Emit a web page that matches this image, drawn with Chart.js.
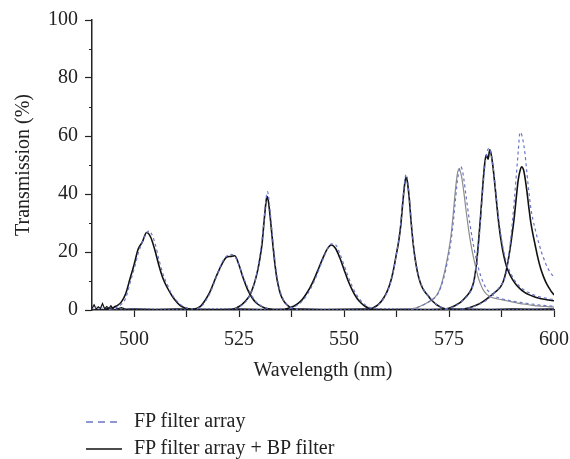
<!DOCTYPE html>
<html>
<head>
<meta charset="utf-8">
<script src="https://cdn.jsdelivr.net/npm/chart.js@4.4.1/dist/chart.umd.min.js"></script>
<style>
  html, body { margin: 0; padding: 0; background: #fff; }
  #wrap { position: relative; width: 570px; height: 459px; }
  #legend { position: absolute; left: 86px; top: 407px; font-family: 'Liberation Serif', 'Times New Roman', serif; font-size: 20px; color: #222; }
  #legend div { height: 27px; line-height: 27px; white-space: nowrap; }
  #legend svg { vertical-align: middle; margin-right: 12px; }
</style>
</head>
<body>
<div id="wrap">
  <canvas id="myChart" width="570" height="459"></canvas>
  <div id="legend">
    <div><svg width="36" height="4"><line x1="0" y1="2" x2="36" y2="2" stroke="#6a76c4" stroke-width="1.5" stroke-dasharray="7,5"/></svg>FP filter array</div>
    <div><svg width="36" height="4"><line x1="0" y1="2" x2="36" y2="2" stroke="#111" stroke-width="1.5"/></svg>FP filter array + BP filter</div>
  </div>
</div>
<script>
// tick positions
var xTicks = [500, 512.5, 525, 537.5, 550, 562.5, 575, 587.5, 600];
var yTicks = [0, 20, 40, 60, 80, 100];
var yMinor = [10, 30, 50, 70, 90];

// FP filter array (dashed), [wavelength nm, transmission %]
var fp503 = [[494,0.2],[495,0.5],[496,1],[497,2],[498,4],[499,9],[500,14],[501,19.5],[502,23.5],[503,26.5],[503.6,27.3],[504,26.8],[505,23],[506,17],[507,12],[508,8.5],[509,5.5],[510,3.5],[511,2],[512,1],[513,0.5],[514,0.3]];
var fp523 = [[515,0.4],[516,1.2],[517,3],[518,5.5],[519,9],[520,13],[521,16.5],[522,18.5],[523,19.2],[524,18.5],[525,15.5],[526,11.5],[527,8],[528,5],[529,3],[530,1.7],[531,0.9],[532,0.4]];
var fp532 = [[524,0.4],[525,1],[526,2],[527,3.6],[527.5,4.8],[528,6.3],[528.5,8.3],[529,11],[529.5,14.5],[530,19],[530.5,24.5],[531,32],[531.5,39],[531.8,40.8],[532,39.5],[532.5,33],[533,25],[533.5,18],[534,12],[534.5,8],[535,5.5],[535.5,3.8],[536,2.6],[537,1.2],[538,0.5],[539,0.2]];
var fp547 = [[537,0.5],[538,1],[539,1.8],[540,3],[541,4.8],[542,7.2],[543,10.2],[544,13.8],[545,17.5],[546,20.8],[547,22.8],[548,22.5],[549,19.5],[550,15.5],[551,11.5],[552,8],[553,5.2],[554,3.2],[555,1.8],[556,0.9],[557,0.4]];
var fp565 = [[557,0.5],[558,1.5],[559,3],[560,5.3],[561,9],[561.5,11.8],[562,15.3],[562.5,19.5],[563,24],[563.5,30],[564,38],[564.5,45],[564.8,46.8],[565,46],[565.5,40],[566,31],[566.5,23],[567,17.5],[567.5,13.5],[568,10.5],[569,7],[570,5],[571,3.3],[572,2],[573,1.1],[574,0.5],[575,0.2]];
var fp578 = [[566,0.3],[568,1.2],[570,2.6],[571,3.5],[572,4.8],[572.5,6],[573,7.6],[573.5,9.8],[574,12.5],[574.5,15.8],[575,19.5],[575.5,24],[576,30],[576.5,37.5],[577,44.5],[577.5,48.5],[577.8,49.5],[578.2,48],[578.5,45.5],[579,40],[579.5,34.5],[580,29.5],[580.5,25],[581,21],[581.5,17.5],[582,14.5],[582.5,12],[583,10],[583.5,8.4],[584,7.2],[585,5.6],[586,4.7],[587,4.1],[588,3.7],[590,3.1],[592,2.6],[594,2.2],[596,1.8],[598,1.5],[600,1.3]];
var fp584 = [[574,0.3],[576,1.1],[578,2.8],[579,4.2],[580,6],[580.5,7.5],[581,10],[581.5,14.5],[582,21.5],[582.5,30.5],[583,40.5],[583.5,49],[584,54],[584.5,55.8],[585,54],[585.5,49.5],[586,43],[586.5,36],[587,29.5],[587.5,24.5],[588,20.5],[588.5,17.3],[589,15],[590,11.8],[591,9.5],[592,7.9],[593,6.8],[594,6],[595,5.3],[596,4.8],[597,4.4],[598,4.1],[599,3.8],[600,3.6]];
var fp592 = [[578,0.3],[580,0.8],[582,1.8],[584,3.5],[585,4.8],[586,6.2],[587,7.8],[588,10],[588.5,12],[589,16],[589.5,22],[590,29],[590.5,37],[591,46],[591.5,55],[591.9,61.2],[592.3,60.5],[593,55],[593.5,48],[594,41],[594.5,35],[595,31],[595.5,28],[596,25],[596.5,22.5],[597,20],[597.5,18],[598,16],[598.5,14.5],[599,13.2],[599.5,12.2],[600,11.5]];
var fpBase = [[490,0.6],[490.5,0.2],[491,1.1],[491.5,0.3],[492,0.9],[493,0.3],[494,0.8],[495,0.3],[500,0.4],[510,0.2],[520,0.4],[530,0.2],[540,0.3],[550,0.2],[560,0.4],[570,0.2],[580,0.3],[590,0.2],[600,0.3]];

// FP filter array + BP filter (solid)
var bp503 = [[493,0.3],[494,0.5],[495,0.8],[496,1.5],[497,2.8],[498,5.5],[499,10.5],[500,15.5],[501,21],[502,23.5],[503,26.7],[504,25],[505,20.5],[506,15],[507,10.5],[508,7.5],[509,5],[510,3],[511,1.5],[512,0.8],[513,0.4],[514,0.2]];
var bp523 = [[514,0.2],[515,0.6],[516,1.5],[517,3.5],[518,6],[519,9.5],[520,13],[521,16],[522,18.2],[523,18.5],[524,18.7],[525,15.5],[526,11],[527,7.2],[528,4.5],[529,2.6],[530,1.5],[531,0.8],[532,0.4],[533,0.2]];
var bp532 = [[523.5,0.3],[524,0.5],[524.5,0.8],[525,1.2],[525.5,1.7],[526,2.3],[526.5,3],[527,3.9],[527.5,4.9],[528,6.5],[528.5,8.5],[529,11],[529.5,14],[530,18],[530.5,23],[531,31],[531.5,38],[531.75,39],[532,37.5],[532.5,31],[533,23.5],[533.5,16.5],[534,11],[534.5,7.5],[535,5],[535.5,3.5],[536,2.4],[536.5,1.7],[537,1.1],[537.5,0.7],[538,0.4],[538.5,0.2]];
var bp547 = [[536,0.3],[537,0.7],[538,1.3],[539,2.2],[540,3.5],[541,5.5],[542,8],[543,11],[544,14.5],[545,18],[546,21],[547,22.4],[548,21.2],[549,18],[550,14],[551,10],[552,6.8],[553,4.2],[554,2.5],[555,1.3],[556,0.6],[557,0.3]];
var bp565 = [[556,0.3],[556.5,0.5],[557,0.8],[557.5,1.2],[558,1.7],[558.5,2.4],[559,3.2],[559.5,4.3],[560,5.6],[560.5,7.2],[561,9.3],[561.5,12],[562,15.5],[562.5,19.5],[563,23.5],[563.5,29],[564,37],[564.5,44],[564.75,45.8],[565,45],[565.5,39],[566,30],[566.5,22.5],[567,17],[567.5,13],[568,10.2],[568.5,8.2],[569,6.8],[569.5,5.8],[570,5],[570.5,4],[571,3.2],[571.5,2.5],[572,1.9],[572.5,1.4],[573,1],[573.5,0.7],[574,0.4],[574.5,0.2]];
var bp578 = [[566,0.3],[567,0.7],[568,1.2],[569,1.9],[570,2.7],[571,3.6],[571.5,4.2],[572,5],[572.5,6.2],[573,8],[573.5,10.5],[574,13.5],[574.5,17],[575,21],[575.5,26],[576,33],[576.5,41],[577,47],[577.4,48.8],[578,46],[578.5,41],[579,35],[579.5,29.5],[580,24.5],[580.5,20.5],[581,17],[581.5,13.8],[582,11],[582.5,9],[583,7.3],[583.5,6.2],[584,5.4],[585,4.5],[586,4],[587,3.7],[588,3.4],[589,3.1],[590,2.8],[591,2.5],[592,2.2],[593,2],[594,1.8],[595,1.6],[596,1.4],[597,1.3],[598,1.2],[599,1.1],[600,1]];
var bp584 = [[574,0.3],[575,0.6],[576,1.2],[577,2],[578,3],[579,4.5],[580,6.3],[580.5,7.8],[581,10.5],[581.5,15.5],[582,23],[582.5,32],[583,42],[583.5,50.5],[583.9,53.5],[584.3,52],[584.7,55.2],[585,54],[585.5,49],[586,42],[586.5,34.5],[587,28],[587.5,23],[588,19],[588.5,16],[589,13.8],[590,10.8],[591,8.7],[592,7.2],[593,6.1],[594,5.3],[595,4.7],[596,4.2],[597,3.9],[598,3.6],[599,3.4],[600,3.2]];
var bp592 = [[578,0.3],[579,0.5],[580,0.9],[581,1.4],[582,2],[583,2.8],[584,3.8],[585,5],[586,6.2],[587,7.5],[587.5,8.6],[588,10.2],[588.5,12.8],[589,16.3],[589.5,20.7],[590,25.8],[590.5,31.5],[591,38.5],[591.5,45],[592,48.5],[592.3,49.4],[592.7,48.5],[593,46.5],[593.5,41.5],[594,35.5],[594.5,30],[595,26],[595.5,22.5],[596,19],[596.5,16],[597,13.5],[597.5,11.5],[598,9.8],[598.5,8.4],[599,7.2],[599.5,6.1],[600,5.2]];
var bpBase = [[490,0.4],[490.5,1.8],[491,0.3],[491.5,1.1],[492,0.5],[492.5,2.2],[493,0.4],[493.5,1.2],[494,0.6],[494.5,1.5],[495,0.5],[495.5,1.3],[496,0.4],[497,0.8],[498,0.3],[500,0.4],[505,0.2],[510,0.4],[515,0.3],[520,0.2],[525,0.4],[530,0.2],[535,0.3],[540,0.4],[545,0.2],[550,0.3],[555,0.4],[560,0.2],[565,0.3],[570,0.2],[575,0.4],[580,0.3],[585,0.2],[590,0.4],[595,0.3],[600,0.4]];

var fpCurves = [fp503, fp523, fp532, fp547, fp565, fp578, fp584, fp592];
var bpCurves = [bp503, bp523, bp532, bp547, bp565, bp578, bp584, bp592];

var serif = "'Liberation Serif', 'Times New Roman', serif";
var ink = '#222';

var datasets = [];
fpCurves.forEach(function (c) {
    datasets.push({ data: c, borderColor: '#6a76c4', borderWidth: 1.2, borderDash: [3, 3], pointRadius: 0, cubicInterpolationMode: 'monotone' });
});
bpCurves.forEach(function (c, i) {
    datasets.push({ data: c, borderColor: i == 5 ? '#8c8c8c' : '#111', borderWidth: i == 5 ? 1.2 : 1.6, pointRadius: 0, cubicInterpolationMode: 'monotone' });
});
datasets.push({ data: fpBase, borderColor: '#4a55a0', borderWidth: 1, borderDash: [2, 2], pointRadius: 0 });
datasets.push({ data: bpBase, borderColor: '#111', borderWidth: 1.2, pointRadius: 0 });

var minorTicks = {
    id: 'minorTicks',
    afterDraw: function (chart) {
        var y = chart.scales.y, c = chart.ctx;
        c.save();
        c.strokeStyle = ink;
        c.lineWidth = 1;
        yMinor.forEach(function (v) {
            var py = Math.round(y.getPixelForValue(v)) + 0.5;
            c.beginPath();
            c.moveTo(y.right - 3, py);
            c.lineTo(y.right, py);
            c.stroke();
        });
        c.restore();
    }
};

var ctx = document.getElementById('myChart').getContext('2d');
var myChart = new Chart(ctx, {
    type: 'line',
    data: { datasets: datasets },
    plugins: [minorTicks],
    options: {
        responsive: false,
        animation: false,
        layout: { autoPadding: false, padding: { top: 20, right: 16, left: 0, bottom: 76 } },
        plugins: { legend: { display: false }, tooltip: { enabled: false } },
        scales: {
            x: {
                type: 'linear', min: 490, max: 600,
                afterBuildTicks: function (s) { s.ticks = xTicks.map(function (v) { return { value: v }; }); },
                afterFit: function (s) { s.height = 73; s.paddingLeft = 0; s.paddingRight = 0; },
                ticks: {
                    font: { family: serif, size: 20 }, color: ink, padding: 11, maxRotation: 0,
                    callback: function (v) { return v % 25 === 0 ? v : ''; }
                },
                grid: { drawOnChartArea: false, tickLength: 7, tickColor: ink, tickWidth: 1.2 },
                border: { color: ink, width: 1.5 },
                title: { display: true, text: 'Wavelength (nm)', font: { family: serif, size: 20 }, color: ink, padding: { top: 0, bottom: 0 } }
            },
            y: {
                min: 0, max: 100,
                afterBuildTicks: function (s) { s.ticks = yTicks.map(function (v) { return { value: v }; }); },
                afterFit: function (s) { s.width = 92; s.paddingTop = 0; s.paddingBottom = 0; },
                ticks: { font: { family: serif, size: 20 }, color: ink, padding: 7 },
                grid: { drawOnChartArea: false, tickLength: 7, tickColor: ink, tickWidth: 1.2 },
                border: { color: ink, width: 1.5 },
                title: { display: true, text: 'Transmission (%)', font: { family: serif, size: 20 }, color: ink, padding: { top: 12, bottom: 0 } }
            }
        }
    }
});
</script>
</body>
</html>
